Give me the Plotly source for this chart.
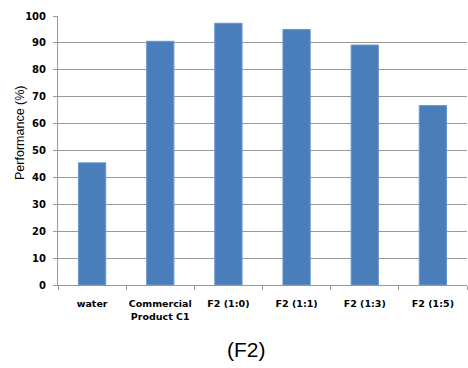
import plotly.graph_objects as go

categories = ["water", "Commercial<br>Product C1", "F2 (1:0)", "F2 (1:1)", "F2 (1:3)", "F2 (1:5)"]
performance = [45.4, 90.6, 97.3, 95.0, 89.2, 66.7]
y_ticks = list(range(0, 101, 10))

fig = go.Figure()
fig.add_trace(go.Bar(
    x=categories, y=performance,
    marker=dict(color="#4a7ebb", line=dict(color="#6a95cc", width=1)),
    width=0.4,
))

fig.update_layout(
    width=468, height=368,
    margin=dict(l=58, r=1, t=16, b=83, autoexpand=False),
    plot_bgcolor="white", paper_bgcolor="white",
    showlegend=False,
    font=dict(family="DejaVu Sans", color="black"),
    annotations=[
        dict(
            text="(F2)", x=0.46, y=-0.24, xref="paper", yref="paper",
            xanchor="center", yanchor="middle", showarrow=False,
            font=dict(family="Liberation Sans", size=21, color="black"),
        ),
        dict(
            text="Performance (%)", x=-0.093, y=0.565, xref="paper", yref="paper",
            xanchor="center", yanchor="middle", showarrow=False, textangle=-90,
            font=dict(family="Liberation Sans", size=12.5, color="black"),
        ),
    ],
)
fig.update_xaxes(
    automargin=False, tickangle=0,
    showline=True, linecolor="#999999", linewidth=1,
    ticks="outside", ticklen=4, tickcolor="#999999",
    tickson="boundaries", ticklabelstandoff=10,
    tickfont=dict(family="DejaVu Sans", size=9.5, color="black", weight="bold"),
    showgrid=False,
)
fig.update_yaxes(
    automargin=False,
    range=[0, 100], tickvals=y_ticks,
    showline=True, linecolor="#999999", linewidth=1,
    ticks="outside", ticklen=4, tickcolor="#999999",
    ticklabelstandoff=5,
    showgrid=True, gridcolor="#999999", gridwidth=1,
    tickfont=dict(family="DejaVu Sans", size=10, color="black", weight="bold"),
    zeroline=False,
)
fig.write_html("out.html", config={"displayModeBar": False},
               post_script="document.body.style.margin='0';")
